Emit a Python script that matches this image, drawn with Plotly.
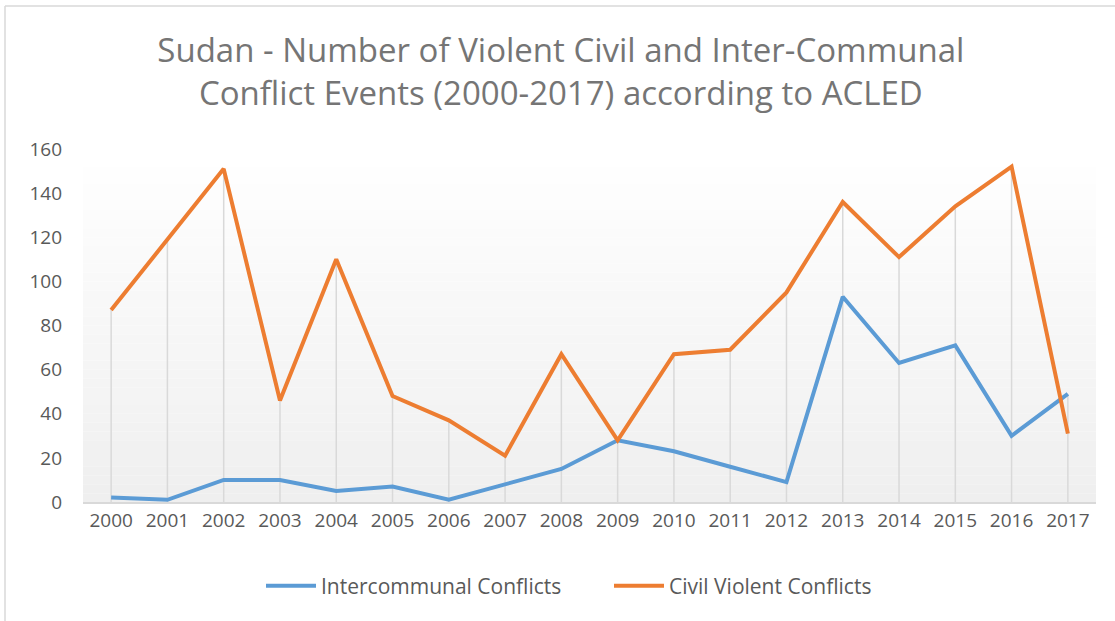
import plotly.graph_objects as go

years = [str(y) for y in range(2000, 2018)]
intercommunal = [2, 1, 10, 10, 5, 7, 1, 8, 15, 28, 23, 16, 9, 93, 63, 71, 30, 49]
civil = [87, 119, 151, 46, 110, 48, 37, 21, 67, 28, 67, 69, 95, 136, 111, 134, 152, 31]
y_ticks = [0, 20, 40, 60, 80, 100, 120, 140, 160]

W, H = 1115, 621
ML, MR, MT, MB = 83, 19, 149, 119

fig = go.Figure()

# drop lines from the higher point down to the axis
dx, dy = [], []
for yr, a, b in zip(years, intercommunal, civil):
    dx += [yr, yr, None]
    dy += [0, max(a, b), None]
fig.add_trace(go.Scatter(x=dx, y=dy, mode="lines", line=dict(color="#d9d9d9", width=1.5),
                         showlegend=False, hoverinfo="skip"))

fig.add_trace(go.Scatter(x=years, y=intercommunal, mode="lines", name="Intercommunal Conflicts",
                         line=dict(color="#5B9BD5", width=4)))
fig.add_trace(go.Scatter(x=years, y=civil, mode="lines", name="Civil Violent Conflicts",
                         line=dict(color="#ED7D31", width=4)))

pw = W - ML - MR
ph = H - MT - MB


def px_x(p):
    return (p - ML) / pw


def px_y(p):
    return (H - MB - p) / ph


shapes = []
# gradient background (white at top to light gray at bottom)
n = 40
for i in range(n):
    t = i / (n - 1)
    v = int(round(255 - (255 - 239) * t))
    shapes.append(dict(type="rect", xref="x domain", yref="y domain", layer="below",
                       x0=0, x1=1, y0=1 - (i + 1) / n, y1=1 - i / n,
                       fillcolor=f"rgb({v},{v},{v})", line=dict(width=0)))
# outer frame (top and left edges visible)
shapes.append(dict(type="line", xref="paper", yref="paper", layer="below",
                   x0=px_x(5), x1=px_x(W), y0=px_y(6), y1=px_y(6),
                   line=dict(color="#d9d9d9", width=1.5)))
shapes.append(dict(type="line", xref="paper", yref="paper", layer="below",
                   x0=px_x(5), x1=px_x(5), y0=px_y(6), y1=px_y(H),
                   line=dict(color="#d9d9d9", width=1.5)))

fig.update_layout(
    width=W, height=H,
    paper_bgcolor="white", plot_bgcolor="white",
    margin=dict(l=ML, r=MR, t=MT, b=MB),
    font=dict(family="Open Sans, sans-serif", color="#595959"),
    title=dict(text="Sudan - Number of Violent Civil and Inter-Communal<br>Conflict Events (2000-2017) according to ACLED",
               x=0.503, xanchor="center", yref="container", y=1 - 62 / H, yanchor="middle",
               font=dict(size=33, color="#757575", family="Open Sans, sans-serif")),
    shapes=shapes,
    showlegend=True,
    legend=dict(orientation="h", x=px_x(261), xanchor="left", y=px_y(586), yanchor="middle",
                font=dict(size=21, color="#595959"), itemwidth=50, entrywidth=283,
                traceorder="normal", bgcolor="rgba(0,0,0,0)"),
    xaxis=dict(type="category", categoryorder="array", categoryarray=years,
               range=[-0.5, 17.5], showgrid=False, zeroline=False,
               showline=True, linecolor="#d9d9d9", linewidth=1.5,
               ticks="", tickfont=dict(size=19, color="#595959")),
    yaxis=dict(range=[0, 160], tickvals=y_ticks, showgrid=False, zeroline=False,
               showline=False, ticks="", tickfont=dict(size=19, color="#595959"),
               ticklabelstandoff=20),
)

fig.write_html("out.html", config={"displayModeBar": False},
               post_script="document.body.style.margin='0';")
